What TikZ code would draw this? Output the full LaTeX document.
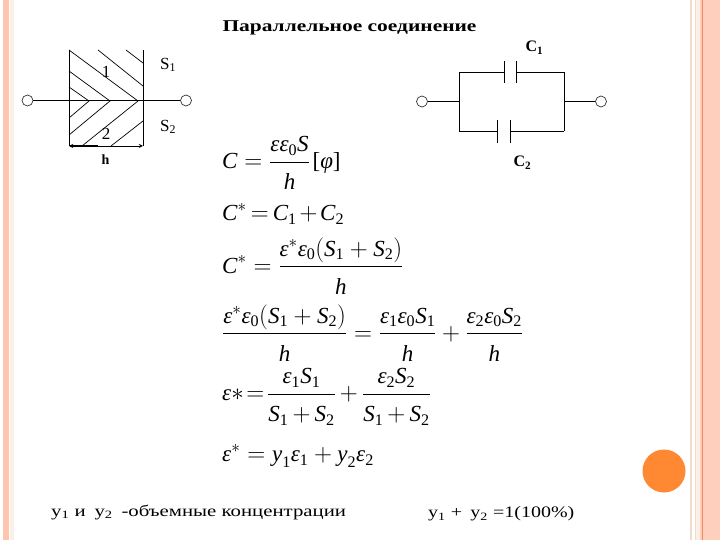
\documentclass[tikz,border=0pt]{standalone}
\usepackage{fontspec}
\setmainfont{Liberation Serif}
\usepackage{amsmath}
\usepackage{graphicx}
\definecolor{stripeA}{HTML}{FFC4AE}
\definecolor{stripeB}{HTML}{FBEFE6}
\definecolor{stripeC}{HTML}{F0DCCB}
\definecolor{stripeD}{HTML}{F08A60}
\definecolor{stripeE}{HTML}{FFCFBE}
\definecolor{dotfill}{HTML}{FF8833}
\newcommand{\iv}[1]{\text{\itshape #1}}
\newcommand{\E}{\iv{ε}}
\newcommand{\Sv}{\iv{S}}
\newcommand{\Cv}{\iv{C}}
\newcommand{\hv}{\iv{h}}
\newcommand{\yv}{\iv{y}}
\newcommand{\up}[1]{\text{\upshape #1}}
\newcommand{\fr}[2]{\dfrac{#1}{\rule{0pt}{1.05em}#2}}
\tikzset{
  px/.style={x=1pt,y=-1pt},
  wire/.style={line width=0.9pt,black},
  hatch/.style={line width=0.7pt,black},
  term/.style={circle,draw=black!80,line width=0.7pt,minimum size=11pt,inner sep=0pt,fill=white},
  lab/.style={inner sep=0pt},
  eq/.style={inner sep=0pt,anchor=west,font=\fontsize{23}{23}\selectfont},
  bottomtext/.style={inner sep=0pt,anchor=west,font=\fontsize{16}{17}\selectfont},
}
\begin{document}
\begin{tikzpicture}[px]
\useasboundingbox (0,0) rectangle (720,540);
\fill[white] (0,0) rectangle (720,540);
% frame stripes
\fill[stripeA] (3,0) rectangle (9,540);
\fill[stripeB] (10,0) rectangle (14,540);
\fill[stripeC] (690,0) rectangle (692,540);
\fill[stripeC] (695,0) rectangle (696,540);
\fill[stripeB] (696,0) rectangle (700,540);
\fill[stripeE] (700,0) rectangle (720,540);
\fill[stripeD] (702,0) rectangle (703,540);
% title
\node[inner sep=0pt,font=\bfseries\fontsize{16.5}{16.5}\selectfont] (title) at (349.5,28) {\scalebox{1.3}[1]{Параллельное соединение}};
% left plate
\coordinate (tl) at (69,50); \coordinate (tr) at (143,50);
\coordinate (bl) at (69,146); \coordinate (br) at (143,146);
\draw[wire] (tl) -- (bl);
\draw[wire] (tr) -- (br);
\node[term] (a) at (27.5,100.5) {};
\node[term] (b) at (186,100.5) {};
\draw[wire] (a) -- (b);
\draw[hatch] (69,50) -- (138,101) -- (82,146);
\draw[hatch] (69,71) -- (110,101) -- (69,135);
\draw[hatch] (69,87) -- (89,101) -- (69,118);
\draw[hatch] (98,50) -- (143,86);
\draw[hatch] (126,50) -- (143,63);
\draw[hatch] (143,121) -- (111,146);
\draw[wire,<->,>=stealth] (69,146) -- (143,146);
\draw[line width=1.6pt] (70,146) -- (98,146);
\node[lab,font=\fontsize{17}{17}\selectfont] (n1) at (106,72) {1};
\node[lab,font=\fontsize{17}{17}\selectfont] (n2) at (106,134) {2};
\node[lab,font=\fontsize{17}{17}\selectfont] (s1) at (168,65) {S\textsubscript{1}};
\node[lab,font=\fontsize{17}{17}\selectfont] (s2) at (168,127) {S\textsubscript{2}};
\node[lab,font=\bfseries\fontsize{14}{14}\selectfont] (hh) at (105.5,160) {h};
% circuit
\node[term] (c) at (422,101.5) {};
\node[term] (d) at (601,101.5) {};
\draw[wire] (c) -- (459,101.5);
\draw[wire] (d) -- (564,101.5);
\draw[wire] (459,72) -- (504,72);
\draw[wire] (516,72) -- (564,72);
\draw[wire] (459,131) -- (497,131);
\draw[wire] (510,131) -- (564,131);
\draw[wire] (459,72) -- (459,131);
\draw[wire] (564,72) -- (564,131);
\draw[wire] (504,61) -- (504,83);
\draw[wire] (516,61) -- (516,83);
\draw[wire] (497,120) -- (497,143);
\draw[wire] (510,120) -- (510,143);
\node[lab,font=\bfseries\fontsize{16}{16}\selectfont] (c1) at (534.5,48) {C\textsubscript{1}};
\node[lab,font=\bfseries\fontsize{16}{16}\selectfont] (c2) at (522.5,163) {C\textsubscript{2}};
% equations
\node[eq] (e1) at (222,163) {$\Cv=\fr{\E\E_{\up{0}}\Sv}{\hv}\mkern2mu\up{[}\iv{φ}\up{]}$};
\node[eq] (e2) at (222,214) {$\thickmuskip=3mu\medmuskip=2mu\Cv^{*}=\Cv_{\up{1}}+\Cv_{\up{2}}$};
\node[eq] (e3) at (222,266) {$\Cv^{*}=\fr{\E^{*}\E_{\up{0}}(\Sv_{\up{1}}+\Sv_{\up{2}})}{\hv}$};
\node[eq] (e4) at (222,333) {$\fr{\E^{*}\E_{\up{0}}(\Sv_{\up{1}}+\Sv_{\up{2}})}{\hv}=\fr{\E_{\up{1}}\E_{\up{0}}\Sv_{\up{1}}}{\hv}+\fr{\E_{\up{2}}\E_{\up{0}}\Sv_{\up{2}}}{\hv}$};
\node[eq] (e5) at (222,397) {$\thickmuskip=2mu\medmuskip=3mu\E{*}=\fr{\E_{\up{1}}\Sv_{\up{1}}}{\Sv_{\up{1}}+\Sv_{\up{2}}}+\fr{\E_{\up{2}}\Sv_{\up{2}}}{\Sv_{\up{1}}+\Sv_{\up{2}}}$};
\node[eq] (e6) at (222,456) {$\E^{*}=\yv_{\up{1}}\E_{\up{1}}+\yv_{\up{2}}\E_{\up{2}}$};
% bottom text
\node[bottomtext] (t1) at (51,512) {\scalebox{1.3}[1]{у\textsubscript{1} и\, у\textsubscript{2}\, -объемные концентрации}};
\node[bottomtext] (t2) at (428,514) {\scalebox{1.25}[1]{у\textsubscript{1} +\, у\textsubscript{2} =1(100\%)}};
% orange dot
\node[circle,fill=dotfill,minimum size=43pt,inner sep=0pt] (dot) at (664,471) {};
\end{tikzpicture}
\end{document}
